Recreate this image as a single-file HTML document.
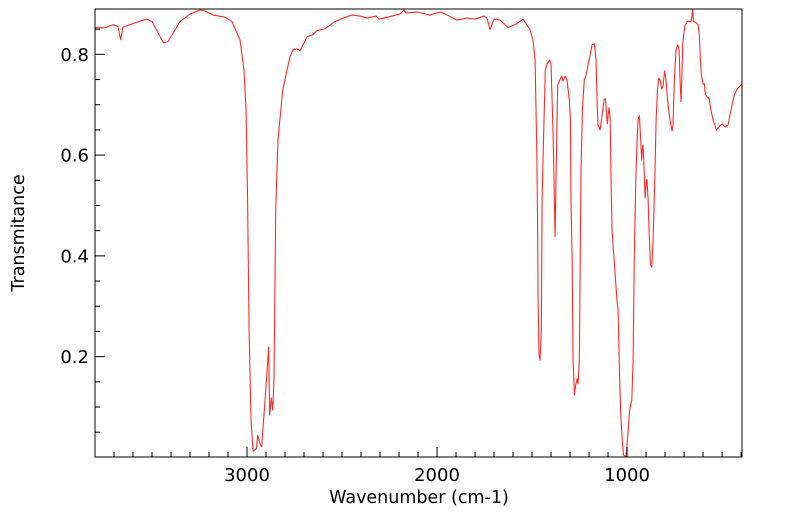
<!DOCTYPE html>
<html><head><meta charset="utf-8"><style>
html,body{margin:0;padding:0;background:#fff;}
svg{display:block;font-family:"DejaVu Sans","Liberation Sans",sans-serif;}
</style></head><body>
<svg id="chart" width="799" height="516" viewBox="0 0 799 516" xmlns="http://www.w3.org/2000/svg">
<defs><clipPath id="clip"><rect x="95" y="9" width="647" height="448"/></clipPath></defs>
<rect x="95" y="9" width="647" height="448" fill="#fff"/>
<g id="series" clip-path="url(#clip)"></g>
<g id="ticks"></g>
<rect x="95" y="9" width="647" height="448" fill="none" stroke="#000" stroke-width="1"/>
<text x="419" y="503" font-size="17.5" text-anchor="middle">Wavenumber (cm-1)</text>
<text transform="translate(24,233) rotate(-90)" font-size="17.5" text-anchor="middle">Transmitance</text>
</svg>
<script>
const wavenumbers = [3800,3747,3705,3689,3679,3665,3653,3616,3528,3500,3440,3416,3353,3300,3247,3221,3179,3116,3079,3037,3016,3005,2997,2989,2979,2968,2950,2944,2932,2923,2905,2886,2881,2872,2865,2858,2849,2837,2812,2789,2774,2758,2737,2721,2684,2653,2632,2589,2537,2495,2447,2405,2368,2321,2305,2237,2195,2174,2163,2105,2037,2005,1979,1947,1895,1842,1800,1753,1737,1721,1700,1668,1626,1579,1547,1511,1495,1484,1475,1471,1468,1463,1458,1451,1447,1437,1430,1421,1407,1400,1393,1389,1384,1379,1374,1365,1358,1344,1337,1325,1316,1304,1298,1295,1289,1284,1277,1270,1263,1258,1251,1246,1242,1235,1225,1216,1205,1184,1172,1163,1158,1153,1142,1133,1121,1114,1109,1104,1095,1089,1084,1079,1068,1053,1047,1040,1033,1025,1019,1005,998,986,975,968,962,954,947,942,935,928,923,920,916,912,905,898,895,889,884,877,870,863,854,847,840,833,826,817,810,802,795,789,781,774,763,758,751,742,733,726,721,716,712,707,702,695,684,663,658,654,651,637,626,620,614,609,600,593,588,579,568,559,547,530,516,500,484,468,458,437,421,395];
const transmittance = [0.853,0.853,0.859,0.857,0.855,0.829,0.854,0.859,0.870,0.865,0.823,0.825,0.865,0.880,0.888,0.886,0.878,0.874,0.865,0.829,0.769,0.690,0.511,0.253,0.074,0.012,0.018,0.044,0.028,0.021,0.114,0.219,0.084,0.118,0.094,0.154,0.491,0.630,0.729,0.769,0.795,0.809,0.811,0.807,0.835,0.839,0.847,0.851,0.865,0.872,0.878,0.876,0.872,0.876,0.870,0.876,0.880,0.888,0.882,0.884,0.878,0.882,0.884,0.878,0.868,0.872,0.870,0.876,0.872,0.849,0.870,0.868,0.853,0.861,0.870,0.849,0.829,0.789,0.610,0.477,0.312,0.203,0.193,0.253,0.511,0.670,0.769,0.781,0.789,0.781,0.690,0.640,0.541,0.438,0.551,0.739,0.745,0.757,0.747,0.757,0.749,0.710,0.670,0.511,0.392,0.193,0.124,0.144,0.156,0.146,0.193,0.412,0.571,0.690,0.749,0.759,0.779,0.819,0.821,0.789,0.710,0.660,0.650,0.674,0.710,0.712,0.690,0.662,0.694,0.674,0.551,0.451,0.392,0.312,0.293,0.173,0.084,0.034,0.005,0.001,0.034,0.094,0.114,0.193,0.392,0.551,0.630,0.670,0.678,0.630,0.590,0.610,0.620,0.590,0.515,0.551,0.551,0.511,0.451,0.382,0.378,0.432,0.551,0.670,0.729,0.753,0.749,0.731,0.739,0.767,0.749,0.720,0.690,0.670,0.648,0.660,0.749,0.809,0.819,0.809,0.749,0.706,0.749,0.819,0.839,0.857,0.865,0.865,0.878,0.890,0.865,0.863,0.859,0.839,0.789,0.759,0.741,0.741,0.720,0.716,0.712,0.690,0.670,0.650,0.656,0.662,0.656,0.660,0.680,0.718,0.731,0.741];
const xMajorTicks = [3000,2000,1000];
const xTickLabels = ["3000","2000","1000"];
const yMajorTicks = [0.2,0.4,0.6,0.8];
const yTickLabels = ["0.2","0.4","0.6","0.8"];

const X0=95,X1=742,Y0=9,Y1=457;
const WN_LEFT=3800,WN_RIGHT=395,T_TOP=0.890,T_BOTTOM=0.0008;
function xs(w){return X0+(WN_LEFT-w)/(WN_LEFT-WN_RIGHT)*(X1-X0);}
function ys(t){return Y1-(t-T_BOTTOM)/(T_TOP-T_BOTTOM)*(Y1-Y0);}
const NS="http://www.w3.org/2000/svg";
const series=document.getElementById('series');
const line=document.createElementNS(NS,'polyline');


line.setAttribute('points',wavenumbers.map((w,i)=>xs(w).toFixed(2)+','+ys(transmittance[i]).toFixed(2)).join(' '));
line.setAttribute('fill','none');line.setAttribute('stroke','#ff2a2a');line.setAttribute('stroke-width','1.1');line.setAttribute('stroke-linejoin','round');
series.appendChild(line);

const ticks=document.getElementById('ticks');
function mk(tag,attrs){const e=document.createElementNS(NS,tag);for(const k in attrs)e.setAttribute(k,attrs[k]);return e;}
for(let w=3800;w>=400;w-=100){
  const major=xMajorTicks.includes(w);const x=xs(w);
  const t=mk('line',{x1:x,x2:x,y1:Y1,y2:Y1-(major?10:5),stroke:'#000','stroke-width':1});
  
  
  ticks.appendChild(t);
}
xMajorTicks.forEach((w,i)=>{
  const t=mk('text',{x:xs(w),y:481,'font-size':18,'text-anchor':'middle'});
  t.textContent=xTickLabels[i];
  
  
  ticks.appendChild(t);
});
for(let k=1;k<=17;k++){
  const v=k*0.05;const major=yMajorTicks.some(m=>Math.abs(m-v)<1e-6);const y=ys(v);
  const t=mk('line',{x1:X0,x2:X0+(major?10:5),y1:y,y2:y,stroke:'#000','stroke-width':1});
  
  
  ticks.appendChild(t);
}
yMajorTicks.forEach((v,i)=>{
  const t=mk('text',{x:89,y:ys(v)+6.5,'font-size':18,'text-anchor':'end'});
  t.textContent=yTickLabels[i];
  
  
  ticks.appendChild(t);
});
</script>
</body></html>
